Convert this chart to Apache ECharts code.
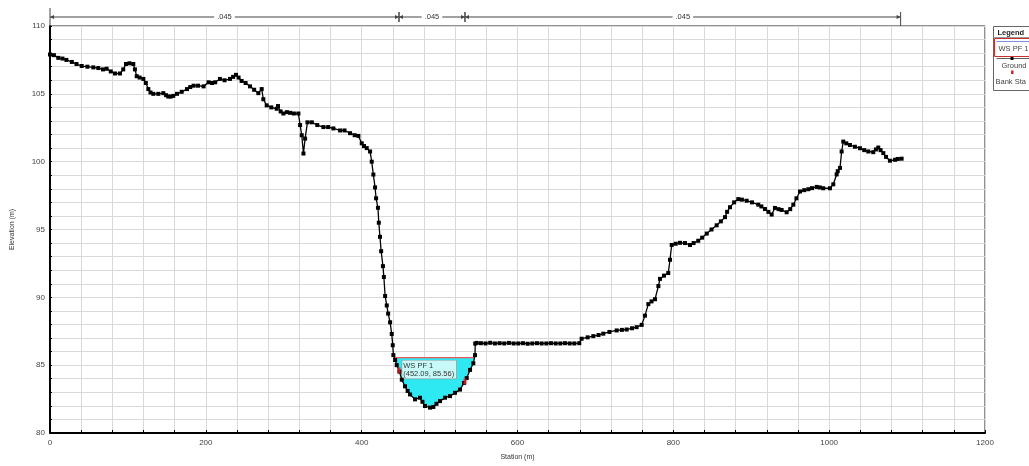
<!DOCTYPE html>
<html>
<head>
<meta charset="utf-8">
<script src="https://cdn.jsdelivr.net/npm/echarts@6/dist/echarts.min.js"></script>
<style>
html,body{margin:0;padding:0;background:#fff;}
#chart{width:1029px;height:466px;}
</style>
</head>
<body>
<div id="chart"></div>
<script>
// ---------- DATA ----------
const groundStation = [0,5,10.7,16,21,28,34,40.7,48,55.6,62,68,72.7,78,83.4,89.8,94,97.5,102,106.9,109,111.3,115,119.8,123,126.2,129,132.6,139,145.4,149,151.8,155,158.2,163,169,175.8,180,184.3,190,197.1,203.5,208,212,218.1,224,231,235,238.7,242,245.9,251,256.7,262,267.4,271.7,273.8,278.1,284,290.9,292.6,296,299.5,304,308.1,313,318.8,321,323.1,325.3,327.4,330.4,336,343,350.9,357,363.7,372.3,378,385.1,391,395.8,400.1,403,406.5,410.8,412.9,415,417.2,418.5,420.9,422,423.5,425,427.3,428.5,430.1,432.2,434,436.5,438.6,439.9,440.7,442.9,445,448.4,451.5,455.6,459,462.1,468.5,474.9,478,481.3,487.8,492,496,500.5,507,513.4,519.8,526.2,531.4,534.8,539.1,543.3,545.5,545.7,547.6,553,559,565,571,577,583,589,595,601,607,613,619,625,631,637,643,649,655,661,667,673,679.3,682.3,690,697.3,704,710.1,718,727.3,734,740.1,747,752.9,759.4,763.6,767.9,772,776.5,780.8,782.9,788,793.5,795.7,797.9,803,808.6,815,821.4,826,832,837,842.9,849,855.6,861,866.3,869,872.7,878,883.4,888,894.1,901,909,913,917.6,922,926.2,930.4,935,939,945.4,950,954,958,962.6,968,973.3,978,984,988,992.4,1001,1005.3,1009.6,1011,1013.9,1016,1018.1,1022,1026.7,1033,1039.5,1045,1050.2,1056.6,1060,1063,1066,1069.5,1073,1078,1084.5,1088,1093];
const groundElev = [107.9,107.85,107.65,107.6,107.5,107.35,107.2,107.05,107.0,106.95,106.9,106.8,106.85,106.65,106.5,106.5,106.8,107.2,107.25,107.2,106.8,106.3,106.2,106.1,105.8,105.35,105.1,105.0,105.0,105.05,104.9,104.8,104.8,104.85,105.0,105.15,105.35,105.5,105.6,105.6,105.55,105.85,105.8,105.85,106.1,106.0,106.1,106.25,106.4,106.2,105.95,105.8,105.55,105.3,105.05,105.35,104.6,104.15,104.0,103.9,104.1,103.7,103.55,103.65,103.6,103.55,103.55,102.7,101.95,100.6,101.7,102.9,102.9,102.7,102.55,102.55,102.45,102.3,102.3,102.1,101.95,101.9,101.35,101.15,101.0,100.75,100.0,99.05,98.1,97.3,96.6,95.5,94.46,93.4,92.3,91.5,90.1,89.4,88.8,88.16,87.3,86.47,85.74,85.38,85.0,84.53,83.93,83.44,83.1,82.84,82.48,82.6,82.3,81.99,81.87,81.92,82.15,82.35,82.6,82.72,82.96,83.2,83.69,84.05,84.65,85.14,85.74,86.59,86.64,86.62,86.6,86.65,86.6,86.62,86.6,86.64,86.6,86.6,86.62,86.58,86.6,86.62,86.6,86.6,86.62,86.6,86.6,86.62,86.6,86.6,86.62,86.95,87.05,87.14,87.22,87.32,87.45,87.56,87.6,87.63,87.72,87.8,87.97,88.65,89.5,89.7,89.86,90.83,91.36,91.6,91.79,92.77,93.86,93.95,94.02,94.0,93.86,94.0,94.17,94.4,94.7,95.0,95.31,95.6,95.91,96.3,96.64,97.0,97.24,97.2,97.12,97.0,96.83,96.7,96.51,96.3,96.1,96.59,96.5,96.44,96.27,96.5,96.83,97.3,97.8,97.9,97.97,98.05,98.14,98.1,98.04,98.04,98.33,99.06,99.3,99.54,100.75,101.48,101.35,101.23,101.1,100.99,100.85,100.75,100.7,100.9,101.04,100.85,100.63,100.35,100.07,100.14,100.2,100.22];
const bankStation = [447.9, 532.6];
const bankElev = [84.62, 83.8];
const wsName = 'WS PF 1';
const wsElev = 85.56;
const wsLabelStation = 452.09;
const nBreaks = [0, 447.9, 532.6, 1091.7];
const nValues = ['.045', '.045', '.045'];
const xTickLabels = [0, 200, 400, 600, 800, 1000, 1200];
const yTickLabels = [80, 85, 90, 95, 100, 105, 110];
const legendItems = ['Legend', 'WS PF 1', 'Ground', 'Bank Sta'];

// ---------- DERIVED ----------
const ground = groundStation.map((s, i) => [s, groundElev[i]]);
const banks = bankStation.map((s, i) => [s, bankElev[i]]);

function crossings() {
  let left = null, right = null;
  for (let i = 1; i < ground.length; i++) {
    const a = ground[i - 1], b = ground[i];
    if (a[1] >= wsElev && b[1] < wsElev && left === null) {
      const l = a[0] + (wsElev - a[1]) / (b[1] - a[1]) * (b[0] - a[0]);
      left = [l, i];
    } else if (a[1] < wsElev && b[1] >= wsElev && left !== null && right === null) {
      const r = a[0] + (wsElev - a[1]) / (b[1] - a[1]) * (b[0] - a[0]);
      right = [r, i];
    }
  }
  return [left, right];
}
const [cl, cr] = crossings();
const waterPoly = [[cl[0], wsElev]];
for (let i = cl[1]; i < cr[1]; i++) waterPoly.push(ground[i]);
waterPoly.push([cr[0], wsElev]);

const nSegments = nValues.map((v, i) => [nBreaks[i], nBreaks[i + 1], v]);

const FONT = 'Liberation Sans, Arial, sans-serif';
const chart = echarts.init(document.getElementById('chart'));

const option = {
  backgroundColor: '#fff',
  animation: false,
  textStyle: { fontFamily: FONT },
  grid: {
    left: 50, right: 44, top: 26, bottom: 27,
    show: true, borderColor: '#222', borderWidth: 1
  },
  xAxis: {
    type: 'value', min: 0, max: 1200, interval: 40,
    name: 'Station (m)', nameLocation: 'middle', nameGap: 21,
    nameTextStyle: { fontSize: 7, color: '#333', fontFamily: FONT },
    axisLine: { show: true, onZero: false, lineStyle: { color: '#000', width: 2 } },
    axisTick: { show: true, length: 3, inside: true, lineStyle: { color: '#000' } },
    axisLabel: {
      fontSize: 8, color: '#444', margin: 6, fontFamily: FONT,
      formatter: v => xTickLabels.indexOf(v) >= 0 ? String(v) : ''
    },
    splitLine: { show: true, lineStyle: { color: '#d9d9d9', width: 1 } }
  },
  yAxis: {
    type: 'value', min: 80, max: 110, interval: 1,
    name: 'Elevation (m)', nameLocation: 'middle', nameGap: 34, nameRotate: 90,
    nameTextStyle: { fontSize: 7, color: '#333', fontFamily: FONT },
    axisLine: { show: true, onZero: false, lineStyle: { color: '#000', width: 2 } },
    axisTick: { show: true, length: 2, inside: true, lineStyle: { color: '#000' } },
    axisLabel: {
      fontSize: 8, color: '#444', margin: 5, fontFamily: FONT,
      formatter: v => yTickLabels.indexOf(v) >= 0 ? String(v) : ''
    },
    splitLine: { show: true, lineStyle: { color: '#d9d9d9', width: 1 } }
  },
  series: [
    {
      name: 'water', type: 'custom', z: 2,
      data: [[wsLabelStation, wsElev]],
      encode: { x: 0, y: 1 },
      renderItem: function (params, api) {
        const pts = waterPoly.map(p => api.coord(p));
        const c = api.coord([wsLabelStation, wsElev]);
        const l = api.coord([cl[0], wsElev]);
        const r = api.coord([cr[0], wsElev]);
        return {
          type: 'group',
          children: [
            { type: 'polygon', shape: { points: pts }, style: { fill: '#2ee8f2', stroke: null } },
            { type: 'line', shape: { x1: l[0], y1: l[1], x2: r[0], y2: r[1] },
              style: { stroke: '#e8585e', lineWidth: 1.2 } },
            { type: 'text', x: c[0], y: c[1] + 3, z2: 10,
              style: {
                text: wsName + '\n(' + wsLabelStation.toFixed(2) + ', ' + wsElev.toFixed(2) + ')',
                fontSize: 7.5, fontFamily: FONT, fill: '#333', lineHeight: 8.5,
                backgroundColor: '#c8fafa', borderColor: '#8a9a9a', borderWidth: 0.6,
                padding: [1, 2, 0, 1]
              } }
          ]
        };
      }
    },
    {
      name: 'Ground', type: 'line', z: 3,
      data: ground,
      symbol: 'rect', symbolSize: 4, showSymbol: true,
      itemStyle: { color: '#000' },
      lineStyle: { color: '#000', width: 1.3 }
    },
    {
      name: 'Bank Sta', type: 'scatter', z: 4,
      data: banks, symbol: 'rect', symbolSize: [3, 6],
      itemStyle: { color: '#e0202a' }
    },
    {
      name: 'n', type: 'custom', z: 5, clip: false,
      data: nSegments.map(s => [s[0], s[1]]),
      encode: { x: [0, 1] },
      renderItem: function (params, api) {
        const i = params.dataIndex;
        const seg = nSegments[i];
        const p1 = api.coord([seg[0], 110]);
        const p2 = api.coord([seg[1], 110]);
        const y = p1[1] - 9;
        const mid = (p1[0] + p2[0]) / 2;
        const col = '#444';
        const ch = [
          { type: 'line', shape: { x1: p1[0], y1: y, x2: p2[0], y2: y }, style: { stroke: col, lineWidth: 1 } },
          { type: 'polygon', shape: { points: [[p1[0], y], [p1[0] + 4, y - 2], [p1[0] + 4, y + 2]] }, style: { fill: col } },
          { type: 'polygon', shape: { points: [[p2[0], y], [p2[0] - 4, y - 2], [p2[0] - 4, y + 2]] }, style: { fill: col } },
          { type: 'line', shape: { x1: p2[0], y1: y - 5, x2: p2[0], y2: (i === nSegments.length - 1 ? p2[1] : y + 5) }, style: { stroke: col, lineWidth: 1 } },
          { type: 'text', x: mid, y: y, style: { text: seg[2], fontSize: 7.5, fontFamily: FONT, fill: '#333',
            align: 'center', verticalAlign: 'middle', backgroundColor: '#fff', padding: [0, 3] } }
        ];
        if (i === 0) ch.push({ type: 'line', shape: { x1: p1[0], y1: y - 9, x2: p1[0], y2: p1[1] }, style: { stroke: col, lineWidth: 1 } });
        else ch.push({ type: 'line', shape: { x1: p1[0], y1: y - 5, x2: p1[0], y2: y + 5 }, style: { stroke: col, lineWidth: 1 } });
        return { type: 'group', children: ch };
      }
    }
  ],
  graphic: [
    {
      type: 'group', left: 991, top: 26,
      children: [
        { type: 'rect', shape: { x: 0, y: 0, width: 60, height: 64 }, style: { fill: '#fff', stroke: '#666', lineWidth: 1 } },
        { type: 'text', x: 4, y: 2, style: { text: legendItems[0], fontSize: 7.5, fontWeight: 'bold', fontFamily: FONT, fill: '#222' } },
        { type: 'line', shape: { x1: 0, y1: 11, x2: 60, y2: 11 }, style: { stroke: '#999', lineWidth: 1 } },
        { type: 'rect', shape: { x: 1, y: 12, width: 58, height: 18 }, style: { fill: '#fff', stroke: '#c83030', lineWidth: 1 } },
        { type: 'line', shape: { x1: 3, y1: 15, x2: 60, y2: 15 }, style: { stroke: '#7f8fe0', lineWidth: 1 } },
        { type: 'text', x: 5, y: 18, style: { text: legendItems[1], fontSize: 7.5, fontFamily: FONT, fill: '#444' } },
        { type: 'line', shape: { x1: 3, y1: 32, x2: 60, y2: 32 }, style: { stroke: '#333', lineWidth: 0.8 } },
        { type: 'rect', shape: { x: 17, y: 30.5, width: 3, height: 3 }, style: { fill: '#000' } },
        { type: 'text', x: 8, y: 35, style: { text: legendItems[2], fontSize: 7.5, fontFamily: FONT, fill: '#444' } },
        { type: 'rect', shape: { x: 17.5, y: 44, width: 2.5, height: 3.5 }, style: { fill: '#e0202a' } },
        { type: 'text', x: 2, y: 51, style: { text: legendItems[3], fontSize: 7.5, fontFamily: FONT, fill: '#444' } }
      ]
    }
  ]
};
chart.setOption(option);
</script>
</body>
</html>
